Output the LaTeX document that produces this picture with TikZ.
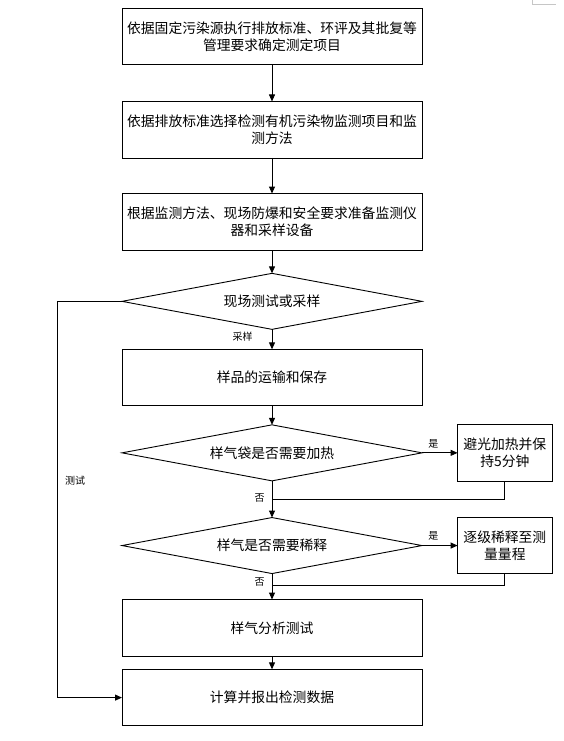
\documentclass[tikz,border=0pt]{standalone}
\usepackage{fontspec}
\setmainfont{Noto Sans CJK SC}
\usetikzlibrary{positioning,arrows.meta,calc,shapes.geometric}

\begin{document}
\begin{tikzpicture}[
    x=1pt, y=1pt,
    concept/.style={
        rectangle, draw, line width=0.9pt, minimum width=300pt, minimum height=56.5pt,
        inner sep=0pt, outer sep=0pt, align=center, font=\fontsize{13.8}{16.5}\selectfont
    },
    choice/.style={
        diamond, draw, line width=0.9pt, minimum width=300pt, minimum height=56pt,
        aspect=5.3, inner sep=0pt, outer sep=0pt, font=\fontsize{13.8}{16.5}\selectfont
    },
    sidebox/.style={
        rectangle, draw, line width=0.9pt, minimum width=94.5pt, minimum height=56.5pt,
        inner sep=0pt, outer sep=0pt, align=center, font=\fontsize{13.8}{16.5}\selectfont
    },
    flow/.style={draw, line width=0.9pt, -{Triangle[length=7pt,width=6pt]}},
    tag/.style={font=\fontsize{10}{12}\selectfont, inner sep=1pt}
]

\useasboundingbox (0,0) rectangle (564,-741);

% Preparation steps
\node[concept] (n1) at (272,-36.5) {依据固定污染源执行排放标准、环评及其批复等\\管理要求确定测定项目};
\node[concept, below=36.7pt of n1] (n2) {依据排放标准选择检测有机污染物监测项目和监\\测方法};
\node[concept, below=35.6pt of n2] (n3) {根据监测方法、现场防爆和安全要求准备监测仪\\器和采样设备};

% Test or sample
\node[choice, below=23.3pt of n3] (n4) {现场测试或采样};
\node[concept, below=20pt of n4] (n5) {样品的运输和保存};

% Heating
\node[choice, below=19pt of n5] (n6) {样气袋是否需要加热};
\node[sidebox, right=35.6pt of n6] (n7) {避光加热并保\\持5分钟};

% Dilution
\node[choice, below=36.7pt of n6] (n8) {样气是否需要稀释};
\node[sidebox, right=35.6pt of n8] (n9) {逐级稀释至测\\量量程};

% Analysis and report
\node[concept, below=26pt of n8] (n10) {样气分析测试};
\node[concept, below=13.3pt of n10] (n11) {计算并报出检测数据};

% Plain downward edges
\foreach \from/\to in {n1/n2, n2/n3, n3/n4, n5/n6, n10/n11}
{
    \draw[flow] (\from) -- (\to);
}

% Labelled edges
\draw[flow] (n4) -- node[tag, pos=0.38, left=18pt] {采样} (n5);
\draw[flow] (n6) -- node[tag, pos=0.455, left=6pt] {否} (n8);
\draw[flow] (n8) -- node[tag, pos=0.32, left=6pt] {否} (n10);
\draw[flow] (n6) -- node[tag, pos=0.32, above=3pt] {是} (n7);
\draw[flow] (n8) -- node[tag, pos=0.32, above=4pt] {是} (n9);

% Return lines from side boxes
\coordinate (m1) at ($(n6.south)!0.5!(n8.north)$);
\coordinate (m2) at ($(n8.south)!0.45!(n10.north)$);
\draw[line width=0.9pt] (n7.south) |- (m1);
\draw[line width=0.9pt] (n9.south) |- (m2);

% Direct test branch
\coordinate (c1) at ([xshift=-64.4pt]n4.west);
\draw[flow] (n4.west) -| node[tag, pos=0.726, right=6pt] {测试} (c1 |- n11.west) -- (n11.west);

% cut-off corner at the top right
\draw[gray!45, line width=0.6pt] (532,0) |- (556,-4);

\end{tikzpicture}
\end{document}
